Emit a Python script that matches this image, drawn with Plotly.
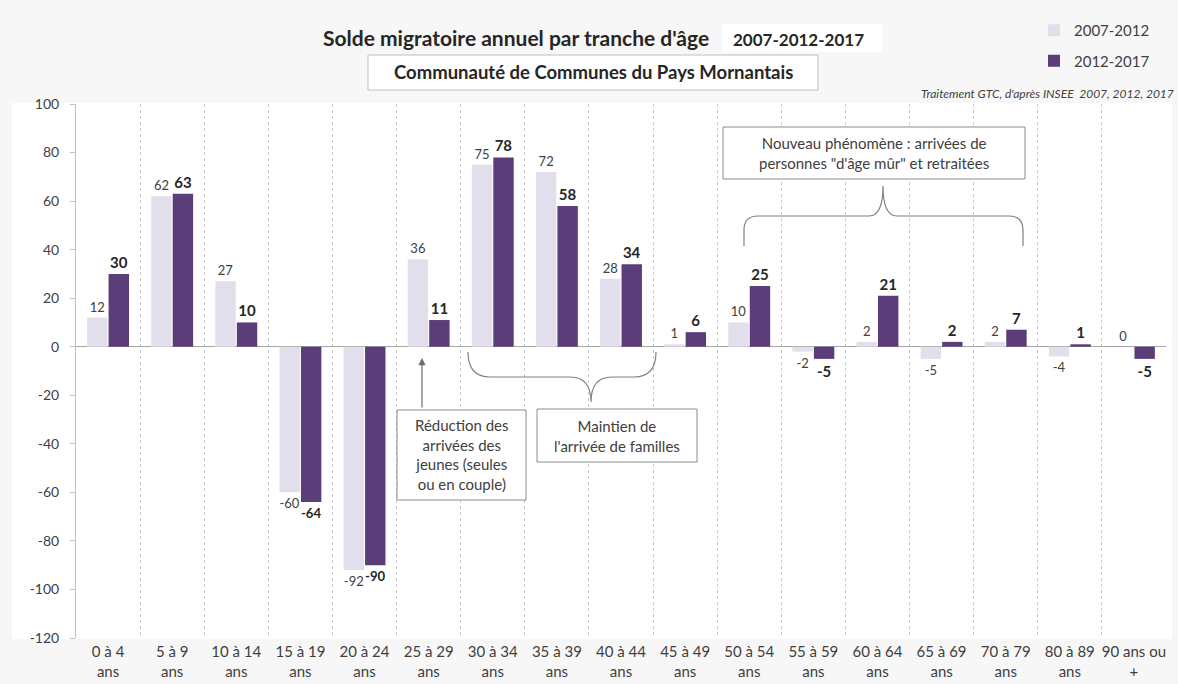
import plotly.graph_objects as go

categories = ["0 à 4<br>ans", "5 à 9<br>ans", "10 à 14<br>ans", "15 à 19<br>ans", "20 à 24<br>ans",
              "25 à 29<br>ans", "30 à 34<br>ans", "35 à 39<br>ans", "40 à 44<br>ans", "45 à 49<br>ans",
              "50 à 54<br>ans", "55 à 59<br>ans", "60 à 64<br>ans", "65 à 69<br>ans", "70 à 79<br>ans",
              "80 à 89<br>ans", "90 ans ou<br>+"]
solde_2007_2012 = [12, 62, 27, -60, -92, 36, 75, 72, 28, 1, 10, -2, 2, -5, 2, -4, 0]
solde_2012_2017 = [30, 63, 10, -64, -90, 11, 78, 58, 34, 6, 25, -5, 21, 2, 7, 1, -5]
y_ticks = [100, 80, 60, 40, 20, 0, -20, -40, -60, -80, -100, -120]

FONT = "Lato"
LIGHT = "#E3DEEB"
DARK = "#5B3D79"
GREY_TXT = "#404040"

# plot area geometry in pixels (for placing decorations)
L, R, T, B = 76, 1166, 104, 638
W, H = 1178, 684


def px(x):
    return (x - L) / (R - L)


def py(y):
    return (B - y) / (B - T)


fig = go.Figure()
fig.add_trace(go.Bar(
    x=categories, y=solde_2007_2012, name="2007-2012", legendgroup="a",
    marker=dict(color=LIGHT, line=dict(width=0)),
    text=[str(v) for v in solde_2007_2012], textposition="outside",
    textfont=dict(family=FONT, size=13, color=GREY_TXT), cliponaxis=False,
))
fig.add_trace(go.Bar(
    x=categories, y=solde_2012_2017, name="2012-2017", legendgroup="b",
    marker=dict(color=DARK, line=dict(width=0)),
    text=["<b>%d</b>" % v for v in solde_2012_2017], textposition="outside",
    textfont=dict(family=FONT, size=15, color="#262626"), cliponaxis=False,
))

shapes = []
# white chart panel behind the plot
shapes.append(dict(type="rect", xref="paper", yref="paper", layer="below",
                   x0=px(12), x1=px(1172), y0=py(639), y1=py(103),
                   fillcolor="white", line=dict(width=0)))
# box behind the years
shapes.append(dict(type="rect", xref="paper", yref="paper", layer="above",
                   x0=px(722), x1=px(882), y0=py(52), y1=py(24),
                   fillcolor="white", line=dict(width=0)))
# subtitle box
shapes.append(dict(type="rect", xref="paper", yref="paper", layer="above",
                   x0=px(368), x1=px(818), y0=py(90), y1=py(55),
                   fillcolor="white", line=dict(color="#BFBFBF", width=1)))
# annotation boxes
for (x0, y0, x1, y1) in [(723, 127, 1025, 179), (537, 409, 697, 462), (397, 410, 526, 500)]:
    shapes.append(dict(type="rect", xref="paper", yref="paper", layer="above",
                       x0=px(x0), x1=px(x1), y0=py(y1), y1=py(y0),
                       fillcolor="white", line=dict(color="#8C8C8C", width=1)))


def path_from(cmds):
    out = []
    for c in cmds:
        op = c[0]
        pts = c[1:]
        coords = []
        for i in range(0, len(pts), 2):
            coords.append("%.5f,%.5f" % (px(pts[i]), py(pts[i + 1])))
        out.append(op + " " + " ".join(coords))
    return " ".join(out)


top_brace = path_from([
    ("M", 744, 246), ("L", 744, 230), ("Q", 744, 216, 758, 216), ("L", 869, 216),
    ("Q", 883, 216, 883, 186), ("Q", 883, 216, 897, 216), ("L", 1009, 216),
    ("Q", 1023, 216, 1023, 230), ("L", 1023, 246),
])
bottom_brace = path_from([
    ("M", 468, 352), ("Q", 468, 377, 490, 377), ("L", 570, 377),
    ("Q", 591, 377, 591, 402), ("Q", 591, 377, 612, 377), ("L", 634, 377),
    ("Q", 656, 377, 656, 352),
])
for p in (top_brace, bottom_brace):
    shapes.append(dict(type="path", xref="paper", yref="paper", layer="above",
                       path=p, line=dict(color="#808080", width=1.2)))

annotations = [
    dict(text="<b>Solde migratoire annuel par tranche d'âge</b>", x=px(516), y=py(37),
         font=dict(family=FONT, size=21, color="#262626")),
    dict(text="<b>2007-2012-2017</b>", x=px(798), y=py(39),
         font=dict(family=FONT, size=17, color="#262626")),
    dict(text="<b>Communauté de Communes du Pays Mornantais</b>", x=px(593), y=py(72),
         font=dict(family=FONT, size=18.5, color="#262626")),
    dict(text="<i>Traitement GTC, d'après INSEE  2007, 2012, 2017</i>", x=px(1176), y=py(93),
         xanchor="right", font=dict(family=FONT, size=12, color=GREY_TXT)),
    dict(text="Nouveau phénomène : arrivées de<br>personnes \"d'âge mûr\" et retraitées",
         x=px(874), y=py(153), font=dict(family=FONT, size=15, color=GREY_TXT)),
    dict(text="Maintien de<br>l'arrivée de familles", x=px(617), y=py(436),
         font=dict(family=FONT, size=15, color=GREY_TXT)),
    dict(text="Réduction des<br>arrivées des<br>jeunes (seules<br>ou en couple)", x=px(462), y=py(455),
         font=dict(family=FONT, size=15, color=GREY_TXT)),
]
for a in annotations:
    a.setdefault("xref", "paper")
    a.setdefault("yref", "paper")
    a.setdefault("showarrow", False)
    a.setdefault("xanchor", "center")
    a.setdefault("yanchor", "middle")
# arrow
annotations.append(dict(text="", xref="paper", yref="paper", x=px(422), y=py(358),
                        ax=0, ay=51, showarrow=True, arrowhead=2, arrowsize=1.2,
                        arrowwidth=1.2, arrowcolor="#6E6E6E"))

fig.update_layout(
    width=W, height=H,
    margin=dict(l=L, r=W - R, t=T, b=H - B),
    paper_bgcolor="#F7F7F7", plot_bgcolor="white",
    barmode="group", bargap=0.33, bargroupgap=0.05,
    font=dict(family=FONT, color=GREY_TXT),
    showlegend=True,
    legend=dict(x=px(1034), y=py(14), xanchor="left", yanchor="top",
                bgcolor="rgba(0,0,0,0)", font=dict(family=FONT, size=15, color=GREY_TXT),
                tracegroupgap=8, itemwidth=30, traceorder="grouped"),
    shapes=shapes, annotations=annotations,
)
fig.update_xaxes(type="category", tickson="boundaries", showgrid=True, griddash="3px,3px",
                 gridcolor="#C8C8C8", gridwidth=1, ticks="", showline=False,
                 ticklabelstandoff=3, automargin=False,
                 tickfont=dict(family=FONT, size=15, color=GREY_TXT), tickangle=0)
fig.update_yaxes(range=[-120, 100], tickvals=y_ticks, ticktext=[str(v) for v in y_ticks],
                 showgrid=False, zeroline=True, automargin=False,
                 zerolinecolor="#A6A6A6", zerolinewidth=1, showline=True, linecolor="#BFBFBF",
                 ticks="outside", ticklen=5, tickcolor="#BFBFBF", ticklabelstandoff=8,
                 tickfont=dict(family=FONT, size=14, color=GREY_TXT))

fig.write_html("out.html", config={"displayModeBar": False},
               post_script="document.body.style.margin='0';document.body.style.overflow='hidden';")
